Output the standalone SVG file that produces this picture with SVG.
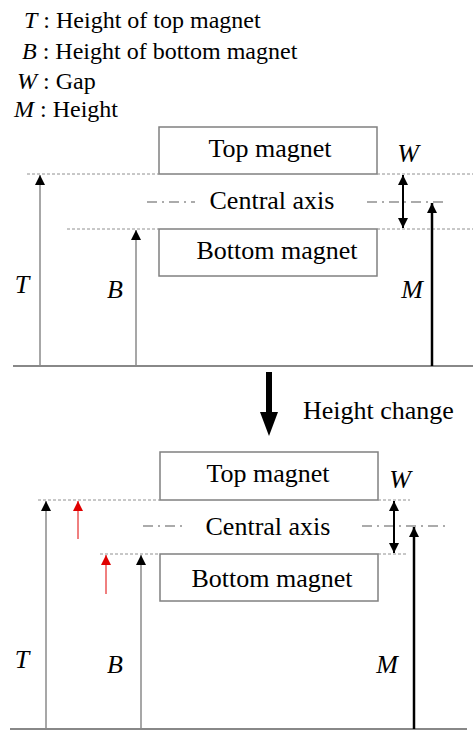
<svg xmlns="http://www.w3.org/2000/svg" width="473" height="730" viewBox="0 0 473 730" font-family="'Liberation Serif', 'Times New Roman', serif">
<style>
text{font-family:'Liberation Serif','Times New Roman',serif;fill:#000}
.lg{font-size:24px}
.lb{font-size:26px}
.it{font-style:italic}
.box{fill:#fff;stroke:#808080;stroke-width:1.5}
.dash{stroke:#909090;stroke-width:1;stroke-dasharray:3 2;fill:none}
.axis{stroke:#909090;stroke-width:1.5;stroke-dasharray:10 5 2 5;fill:none}
.gray{stroke:#8a8a8a;stroke-width:1.5;fill:none}
.blk{stroke:#000;stroke-width:2.5;fill:none}
.red{stroke:#e00000;stroke-width:1;fill:none}
.base{stroke:#888;stroke-width:2;fill:none}
</style>
<defs>
<marker id="ah" viewBox="0 0 10 10" refX="10" refY="5" markerWidth="10" markerHeight="10" markerUnits="userSpaceOnUse" orient="auto-start-reverse"><path d="M0,0 L10,5 L0,10 Z" fill="#000"/></marker>
<marker id="ahr" viewBox="0 0 10 10" refX="10" refY="5" markerWidth="10" markerHeight="10" markerUnits="userSpaceOnUse" orient="auto-start-reverse"><path d="M0,0 L10,5 L0,10 Z" fill="#e00000"/></marker>
</defs>
<g id="legend">
<text class="lg" x="24" y="28"><tspan class="it">T</tspan> : Height of top magnet</text>
<text class="lg" x="22" y="59"><tspan class="it">B</tspan> : Height of bottom magnet</text>
<text class="lg" x="17" y="89"><tspan class="it">W</tspan> : Gap</text>
<text class="lg" x="14" y="117"><tspan class="it">M</tspan> : Height</text>
</g>
<g id="top-magnet-1"><rect class="box" x="159" y="127" width="218" height="47"/><text class="lb" x="270" y="157" text-anchor="middle">Top magnet</text></g>
<g id="bottom-magnet-1"><rect class="box" x="159" y="229" width="218" height="47"/><text class="lb" x="277" y="259" text-anchor="middle">Bottom magnet</text></g>
<g id="central-axis-1"><text class="lb" x="272" y="209" text-anchor="middle">Central axis</text></g>
<g id="labels-1">
<text class="lb it" x="22" y="293" text-anchor="middle">T</text>
<text class="lb it" x="115" y="298" text-anchor="middle">B</text>
<text class="lb it" x="412" y="298" text-anchor="middle">M</text>
<text class="lb it" x="408" y="162" text-anchor="middle">W</text>
</g>
<g id="change"><text class="lb" x="303" y="419">Height change</text></g>
<g id="top-magnet-2"><rect class="box" x="160" y="452" width="218" height="48"/><text class="lb" x="268" y="482" text-anchor="middle">Top magnet</text></g>
<g id="bottom-magnet-2"><rect class="box" x="160" y="554" width="218" height="47"/><text class="lb" x="272" y="587" text-anchor="middle">Bottom magnet</text></g>
<g id="central-axis-2"><text class="lb" x="268" y="535" text-anchor="middle">Central axis</text></g>
<g id="labels-2">
<text class="lb it" x="22" y="668" text-anchor="middle">T</text>
<text class="lb it" x="115" y="673" text-anchor="middle">B</text>
<text class="lb it" x="387" y="673" text-anchor="middle">M</text>
<text class="lb it" x="400" y="488" text-anchor="middle">W</text>
</g>
<g id="connectors">
<path class="dash" d="M27,174 H159 M377,174 H473"/>
<path class="dash" d="M67,229 H159 M377,229 H473"/>
<path class="axis" d="M147,202 H195 M367,202 H447"/>
<path class="base" d="M13,366 H473"/>
<path class="gray" d="M40,366 V175" marker-end="url(#ah)"/>
<path class="gray" d="M136,366 V230" marker-end="url(#ah)"/>
<path class="blk" d="M432,366 V203" marker-end="url(#ah)"/>
<path class="blk" style="stroke-width:2" d="M403,175 V228" marker-start="url(#ah)" marker-end="url(#ah)"/>
<path d="M269,372 V414" stroke="#000" stroke-width="6"/>
<path d="M260,412 L278,412 L269,436 Z" fill="#000"/>
<path class="dash" d="M38,500 H160 M378,500 H410"/>
<path class="dash" d="M100,554 H160 M378,554 H408"/>
<path class="axis" d="M143,526 H185 M362,526 H447"/>
<path class="base" d="M10,729 H467"/>
<path class="gray" d="M46,729 V501" marker-end="url(#ah)"/>
<path class="gray" d="M141,729 V555" marker-end="url(#ah)"/>
<path class="blk" d="M414,729 V527" marker-end="url(#ah)"/>
<path class="blk" style="stroke-width:2" d="M394,501 V553" marker-start="url(#ah)" marker-end="url(#ah)"/>
<path class="red" d="M78,539 V501" marker-end="url(#ahr)"/>
<path class="red" d="M106,594 V555" marker-end="url(#ahr)"/>
</g>
</svg>
